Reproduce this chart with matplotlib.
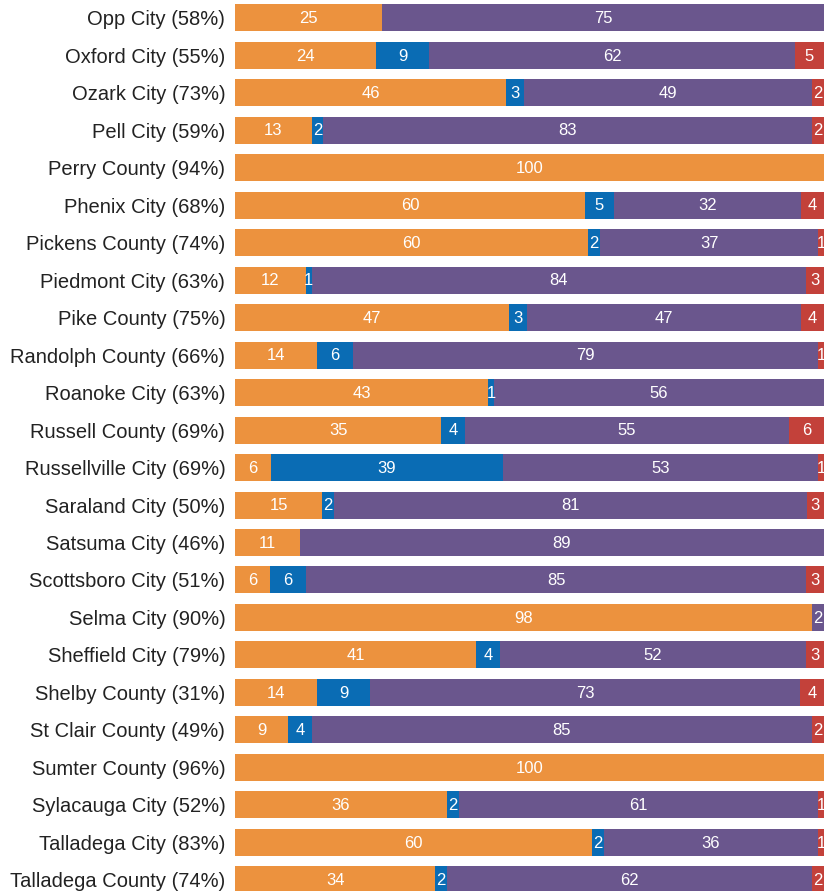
import matplotlib
matplotlib.use("Agg")
import matplotlib.pyplot as plt
import numpy as np

names = ["Opp City (58%)", "Oxford City (55%)", "Ozark City (73%)", "Pell City (59%)",
         "Perry County (94%)", "Phenix City (68%)", "Pickens County (74%)", "Piedmont City (63%)",
         "Pike County (75%)", "Randolph County (66%)", "Roanoke City (63%)", "Russell County (69%)",
         "Russellville City (69%)", "Saraland City (50%)", "Satsuma City (46%)", "Scottsboro City (51%)",
         "Selma City (90%)", "Sheffield City (79%)", "Shelby County (31%)", "St Clair County (49%)",
         "Sumter County (96%)", "Sylacauga City (52%)", "Talladega City (83%)", "Talladega County (74%)"]
orange = [25, 24, 46, 13, 100, 60, 60, 12, 47, 14, 43, 35, 6, 15, 11, 6, 98, 41, 14, 9, 100, 36, 60, 34]
blue   = [0, 9, 3, 2, 0, 5, 2, 1, 3, 6, 1, 4, 39, 2, 0, 6, 0, 4, 9, 4, 0, 2, 2, 2]
purple = [75, 62, 49, 83, 0, 32, 37, 84, 47, 79, 56, 55, 53, 81, 89, 85, 2, 52, 73, 85, 0, 61, 36, 62]
red    = [0, 5, 2, 2, 0, 4, 1, 3, 4, 1, 0, 6, 1, 3, 0, 3, 0, 3, 4, 2, 0, 1, 1, 2]

colors = ["#EC923E", "#0A6CB4", "#6A568D", "#C3413A"]
series = [orange, blue, purple, red]

W, H = 828, 891
fig = plt.figure(figsize=(W / 100, H / 100), dpi=100)
left_px, right_px = 235, 824
ax = fig.add_axes([left_px / W, 0, (right_px - left_px) / W, 1])

pitch = 37.48
c0 = 17.8
n = len(names)
ytop = -c0 / pitch
ybot = (H - c0) / pitch
y = np.arange(n)
bar_h = 27 / pitch

totals = np.sum([np.array(s, dtype=float) for s in series], axis=0)
lefts = np.zeros(n)
for vals, col in zip(series, colors):
    v = np.array(vals, dtype=float)
    w = v / totals * 100
    ax.barh(y, w, left=lefts, height=bar_h, color=col, edgecolor="none")
    for i in range(n):
        if v[i] > 0:
            ax.text(lefts[i] + w[i] / 2, y[i] + 0.02, str(int(v[i])), ha="center", va="center",
                    color="white", fontsize=12, family="Liberation Sans")
    lefts += w

ax.set_xlim(0, 100)
ax.set_ylim(ybot, ytop)
ax.set_yticks(y)
ax.set_yticklabels(names, fontsize=14.5, color="#222222", family="Liberation Sans")
ax.tick_params(axis="y", length=0, pad=7)
ax.set_xticks([])
for s in ax.spines.values():
    s.set_visible(False)

fig.savefig("out.png", dpi=100)
